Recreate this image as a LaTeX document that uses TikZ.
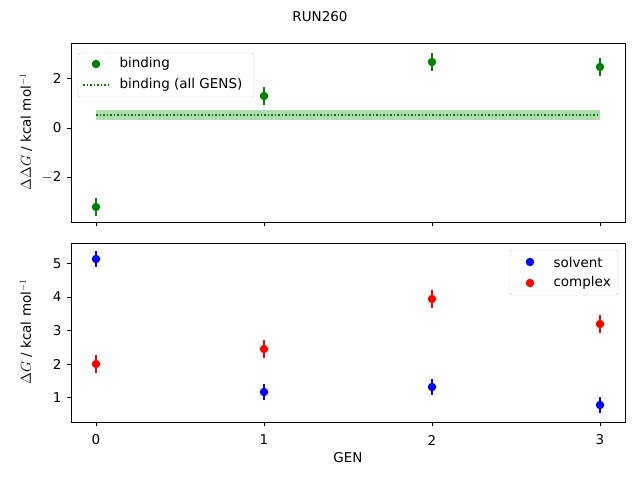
\documentclass[tikz,border=0pt]{standalone}
\usepackage{fontspec}
\setmainfont{DejaVu Sans}
\begin{document}
\begin{tikzpicture}[x=1pt,y=-1pt,font=\fontsize{13.5}{16}\selectfont,
  ax/.style={draw=black,line width=0.8pt},
  tk/.style={line width=0.8pt},
  eb/.style={line width=1.5pt},
  pt/.style={circle,inner sep=0pt,minimum size=8.5pt}]
\definecolor{mgreen}{RGB}{0,128,0}
\definecolor{band}{RGB}{176,220,176}
\useasboundingbox (0,0) rectangle (640,480);
\node (title) at (320,17) {RUN260};
% top axes
\fill[band] (96,110) rectangle (600,120);
\draw[mgreen,dotted,line width=1.5pt] (96,115) -- (600,115);
\draw[ax] (71,43) rectangle (625,222);
\foreach \v/\y in {2/78,0/128}{\draw[tk] (71,\y)--(67,\y); \node[anchor=east] (ty\v) at (65,\y) {\v};}
\draw[tk] (71,177)--(67,177); \node[anchor=east] (tym) at (65,177) {$-$2};
\foreach \x in {96,264,432,600}{\draw[tk] (\x,222)--(\x,226);}
\node[rotate=90] (ylt) at (26,132) {$\Delta\Delta G$ / kcal mol$^{-1}$};
\foreach \x/\y[count=\i] in {96/207,264/96,432/62,600/67}{
  \draw[mgreen,eb] (\x,\y-9)--(\x,\y+9);
  \node[pt,fill=mgreen] (g\i) at (\x,\y) {};}
\draw[draw={rgb,255:red,204;green,204;blue,204},fill=white,rounded corners=2pt] (78,53) rectangle (254,97);
\node[pt,fill=mgreen] (lg1) at (96,64) {};
\node[anchor=west] (lt1) at (116,64) {binding};
\draw[mgreen,dotted,line width=1.5pt] (83,85)--(109,85);
\node[anchor=west] (lt2) at (116,85) {binding (all GENS)};
% bottom axes
\draw[ax] (71,243) rectangle (625,422);
\foreach \v/\y in {5/263.7,4/297,3/330.5,2/364,1/397.3}{\draw[tk] (71,\y)--(67,\y); \node[anchor=east] (by\v) at (65,\y) {\v};}
\foreach \x/\g in {96/0,264/1,432/2,600/3}{\draw[tk] (\x,422)--(\x,426); \node (bx\g) at (\x,440) {\g};}
\node (xl) at (348,458) {GEN};
\node[rotate=90] (ylb) at (26,332) {$\Delta G$ / kcal mol$^{-1}$};
\foreach \x/\y[count=\i] in {96/259,264/392,432/387,600/405}{
  \draw[blue,eb] (\x,\y-8)--(\x,\y+8);
  \node[pt,fill=blue] (s\i) at (\x,\y) {};}
\foreach \x/\y[count=\i] in {96/364,264/349,432/299,600/324}{
  \draw[red,eb] (\x,\y-9)--(\x,\y+9);
  \node[pt,fill=red] (c\i) at (\x,\y) {};}
\draw[draw={rgb,255:red,204;green,204;blue,204},fill=white,rounded corners=2pt] (510,250) rectangle (618,295);
\node[pt,fill=blue] (lb1) at (530,262) {};
\node[anchor=west] (lb1t) at (550,262) {solvent};
\node[pt,fill=red] (lb2) at (530,283) {};
\node[anchor=west] (lb2t) at (550,283) {complex};
\end{tikzpicture}
\end{document}
